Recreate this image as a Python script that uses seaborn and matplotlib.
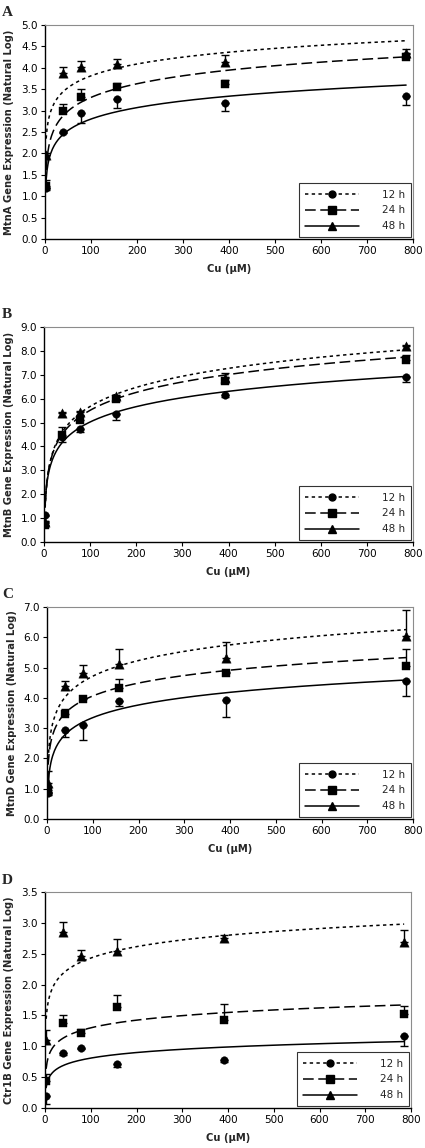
import matplotlib
matplotlib.use("Agg")
import matplotlib.pyplot as plt
from matplotlib.lines import Line2D
import numpy as np
import pandas as pd
import seaborn as sns

# Cu doses (uM)
dose = [2.5, 39, 78, 157, 392, 785]
times = ["12 h", "24 h", "48 h"]

# MtnA
mtnA_12 = [1.20, 2.51, 2.94, 3.27, 3.17, 3.33]
mtnA_12_err = [0.05, 0.03, 0.22, 0.20, 0.19, 0.20]
mtnA_24 = [1.24, 3.00, 3.32, 3.54, 3.62, 4.26]
mtnA_24_err = [0.14, 0.15, 0.18, 0.11, 0.10, 0.07]
mtnA_48 = [1.97, 3.89, 4.02, 4.08, 4.14, 4.34]
mtnA_48_err = [0.03, 0.13, 0.14, 0.13, 0.16, 0.10]

# MtnB
mtnB_12 = [1.12, 4.40, 4.74, 5.34, 6.17, 6.90]
mtnB_12_err = [0.05, 0.20, 0.14, 0.25, 0.10, 0.20]
mtnB_24 = [0.73, 4.47, 5.09, 6.00, 6.72, 7.63]
mtnB_24_err = [0.05, 0.34, 0.21, 0.10, 0.37, 0.21]
mtnB_48 = [0.85, 5.40, 5.44, 6.11, 6.85, 8.19]
mtnB_48_err = [0.05, 0.05, 0.05, 0.05, 0.05, 0.05]

# MtnD
mtnD_12 = [0.85, 2.94, 3.10, 3.90, 3.93, 4.55]
mtnD_12_err = [0.05, 0.22, 0.49, 0.16, 0.56, 0.48]
mtnD_24 = [0.90, 3.46, 3.95, 4.31, 4.81, 5.05]
mtnD_24_err = [0.05, 0.16, 0.05, 0.31, 0.05, 0.55]
mtnD_48 = [1.20, 4.40, 4.83, 5.13, 5.30, 6.03]
mtnD_48_err = [0.40, 0.16, 0.25, 0.47, 0.55, 0.88]

# Ctr1B
ctr1B_12 = [0.19, 0.89, 0.97, 0.71, 0.77, 1.17]
ctr1B_12_err = [0.12, 0.03, 0.02, 0.05, 0.03, 0.16]
ctr1B_24 = [0.43, 1.38, 1.21, 1.63, 1.43, 1.52]
ctr1B_24_err = [0.12, 0.12, 0.07, 0.20, 0.25, 0.14]
ctr1B_48 = [1.10, 2.85, 2.46, 2.54, 2.76, 2.69]
ctr1B_48_err = [0.17, 0.17, 0.10, 0.20, 0.04, 0.20]

# log trendlines y = a + b*ln(x) (dotted, dashed, solid)
mtnA_a = [1.98, 1.19, 1.03]
mtnA_b = [0.398, 0.46, 0.385]
mtnB_a = [0.38, 0.54, 0.76]
mtnB_b = [1.15, 1.08, 0.926]
mtnD_a = [1.28, 1.23, 0.57]
mtnD_b = [0.746, 0.615, 0.603]
ctr1B_a = [1.20, 0.47, 0.21]
ctr1B_b = [0.267, 0.18, 0.13]

panels = [
    ("A", "MtnA", [mtnA_12, mtnA_24, mtnA_48], [mtnA_12_err, mtnA_24_err, mtnA_48_err], mtnA_a, mtnA_b, 5.0, 0.5),
    ("B", "MtnB", [mtnB_12, mtnB_24, mtnB_48], [mtnB_12_err, mtnB_24_err, mtnB_48_err], mtnB_a, mtnB_b, 9.0, 1.0),
    ("C", "MtnD", [mtnD_12, mtnD_24, mtnD_48], [mtnD_12_err, mtnD_24_err, mtnD_48_err], mtnD_a, mtnD_b, 7.0, 1.0),
    ("D", "Ctr1B", [ctr1B_12, ctr1B_24, ctr1B_48], [ctr1B_12_err, ctr1B_24_err, ctr1B_48_err], ctr1B_a, ctr1B_b, 3.5, 0.5),
]

# axes boxes in pixels (left, top, right, bottom)
boxes = [(45, 25, 413, 239), (44, 327, 413, 542), (47, 607, 413, 819), (45, 892, 411, 1108)]

sns.set_style("ticks")
plt.rcParams["font.family"] = ["DejaVu Sans"]

W, H = 425, 1148
fig = plt.figure(figsize=(W / 100, H / 100), dpi=100)

markers = ["o", "s", "^"]
msizes = [30, 40, 45]
curve_styles = [(0, (2.2, 2.2)), (0, (7, 3)), "-"]
err_dir = [-1, 1, 1]

for (letter, gene, means, errs, ca, cb, ymax, ystep), (l, t, r, b) in zip(panels, boxes):
    ax = fig.add_axes([l / W, 1 - b / H, (r - l) / W, (b - t) / H])

    # trendlines
    xs = np.linspace(dose[0], dose[-1], 400)
    for k in range(3):
        curve = pd.DataFrame({"x": xs, "y": ca[k] + cb[k] * np.log(xs)})
        sns.lineplot(data=curve, x="x", y="y", ax=ax, color="black", lw=1.1,
                     linestyle=curve_styles[k], legend=False)

    # data points and one-sided error bars
    for k in range(3):
        d = pd.DataFrame({"x": dose, "y": means[k]})
        e = np.array(errs[k])
        if err_dir[k] < 0:
            yerr = [e, np.zeros_like(e)]
        else:
            yerr = [np.zeros_like(e), e]
        ax.errorbar(dose, means[k], yerr=yerr, fmt="none", ecolor="black",
                    elinewidth=1.0, capsize=3, capthick=1.0, zorder=3)
        sns.scatterplot(data=d, x="x", y="y", ax=ax, marker=markers[k], s=msizes[k],
                        color="black", edgecolor="black", linewidth=0.3, zorder=4, legend=False)

    ax.set_xlim(0, 800)
    ax.set_ylim(0, ymax)
    ax.set_xticks(np.arange(0, 801, 100))
    ax.set_yticks(np.arange(0, ymax + 0.001, ystep))
    ax.set_yticklabels([f"{v:.1f}" for v in np.arange(0, ymax + 0.001, ystep)])
    ax.tick_params(labelsize=7.5, length=3, width=0.8, pad=2, colors="black")
    for s in ["left", "bottom"]:
        ax.spines[s].set_color("black")
        ax.spines[s].set_linewidth(1.0)
    for s in ["top", "right"]:
        ax.spines[s].set_color("#8c8c8c")
        ax.spines[s].set_linewidth(0.8)
    ax.set_xlabel("Cu (\u00b5M)", fontsize=7.2, fontweight="bold", labelpad=6)
    ax.set_ylabel(f"{gene} Gene Expression (Natural Log)", fontsize=7.2,
                  fontweight="bold", labelpad=5)

    handles = [Line2D([], [], color="black", lw=1.1, linestyle=curve_styles[k],
                      marker=markers[k], markersize=[5, 6, 6][k]) for k in range(3)]
    leg = ax.legend(handles, times, loc="lower right", bbox_to_anchor=(1.0, 0.0),
                    frameon=True, fancybox=False, edgecolor="black", fontsize=7.5,
                    handlelength=5.2, handletextpad=2.2, borderpad=0.6,
                    labelspacing=0.55, borderaxespad=0.15, numpoints=1)
    leg.get_frame().set_linewidth(0.8)

    fig.text(2 / W, 1 - (t - 12) / H, letter, fontsize=11, fontweight="bold",
             family="Liberation Serif", va="center", ha="left")

fig.savefig("out.png", dpi=100)
